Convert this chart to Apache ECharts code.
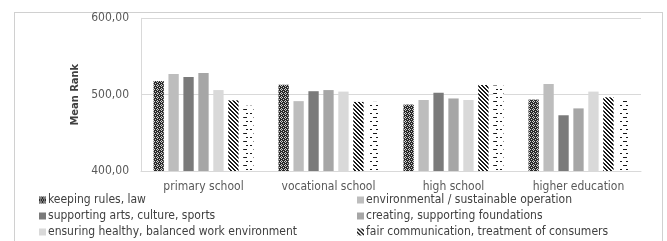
<!DOCTYPE html>
<html>
<head>
<meta charset="utf-8">
<script src="https://cdn.jsdelivr.net/npm/echarts@6/dist/echarts.min.js"></script>
<style>
  html, body { margin: 0; padding: 0; background: #fff; }
  #wrap { position: relative; width: 667px; height: 241px; overflow: hidden; }
  #frame { position: absolute; left: 14px; top: 12px; width: 647px; height: 260px; border: 1px solid #d0d0d0; }
  #chart { position: absolute; left: 0; top: 0; width: 667px; height: 241px; }
</style>
</head>
<body>
<div id="wrap">
  <div id="frame"></div>
  <div id="chart"></div>
</div>
<script>
const categories = ["primary school", "vocational school", "high school", "higher education"];
const seriesNames = [
  "keeping rules, law",
  "environmental / sustainable operation",
  "supporting arts, culture, sports",
  "creating, supporting foundations",
  "ensuring healthy, balanced work environment",
  "fair communication, treatment of consumers",
  "other"
];
const keepingRules = [518, 513, 487, 493.5];
const environmental = [527, 491.5, 493, 514];
const supportingArts = [523, 504.5, 502.5, 473];
const foundations = [528.5, 506, 495, 482];
const healthyWork = [506, 504, 493, 504];
const fairCommunication = [492.5, 490.5, 512.5, 496.5];
const otherValues = [485.5, 490.5, 512, 492.5];
const yTicks = [400, 500, 600];

const FONT = "'Liberation Sans Narrow', 'DejaVu Sans Condensed', 'Liberation Sans', sans-serif";

// pattern fills drawn on tiny canvases
function makePattern(w, h, draw) {
  const c = document.createElement("canvas");
  c.width = w; c.height = h;
  const ctx = c.getContext("2d");
  draw(ctx);
  return { image: c, repeat: "repeat" };
}

const checkPattern = makePattern(4, 4, (ctx) => {
  ctx.fillStyle = "#2b2b2b";
  ctx.fillRect(0, 0, 4, 4);
  ctx.fillStyle = "#d0d0d0";
  ctx.fillRect(1, 0, 1, 1);
  ctx.fillRect(0, 1, 1, 1);
  ctx.fillRect(2, 1, 1, 1);
  ctx.fillRect(1, 2, 1, 1);
  ctx.fillRect(3, 3, 1, 1);
});

const stripePattern = makePattern(4, 4, (ctx) => {
  ctx.fillStyle = "#fff";
  ctx.fillRect(0, 0, 4, 4);
  ctx.fillStyle = "#1a1a1a";
  for (let i = 0; i < 4; i++) {
    ctx.fillRect(i, i, 1, 1);
    ctx.fillRect((i + 1) % 4, i, 1, 1);
  }
});

const dashPattern = makePattern(10, 8, (ctx) => {
  ctx.fillStyle = "#fff";
  ctx.fillRect(0, 0, 10, 8);
  ctx.fillStyle = "#1a1a1a";
  ctx.fillRect(0, 1, 2, 1);
  ctx.fillRect(6, 1, 2, 1);
  ctx.fillRect(3, 5, 4, 1);
});

const fills = [checkPattern, "#bdbdbd", "#7a7a7a", "#a6a6a6", "#d9d9d9", stripePattern, dashPattern];
const values = [keepingRules, environmental, supportingArts, foundations, healthyWork, fairCommunication, otherValues];

const chart = echarts.init(document.getElementById("chart"));

const legendCommon = {
  orient: "vertical",
  icon: "rect",
  itemWidth: 7,
  itemHeight: 7,
  itemGap: 4,
  padding: 0,
  top: 194,
  height: 60,
  textStyle: { color: "#404040", fontSize: 12, fontFamily: FONT, lineHeight: 12, padding: [0, 0, 0, -3] },
};

chart.setOption({
  animation: false,
  textStyle: { fontFamily: FONT },
  legend: [
    Object.assign({}, legendCommon, { left: 39, data: [seriesNames[0], seriesNames[2], seriesNames[4]] }),
    Object.assign({}, legendCommon, { left: 357, data: [seriesNames[1], seriesNames[3], seriesNames[5]] }),
  ],
  grid: { left: 141, right: 26, top: 18.3, bottom: 70 },
  xAxis: {
    type: "category",
    data: categories,
    axisLine: { lineStyle: { color: "#d9d9d9" } },
    axisTick: { show: false },
    axisLabel: { color: "#595959", fontSize: 12, margin: 10, fontFamily: FONT },
  },
  yAxis: {
    type: "value",
    min: yTicks[0],
    max: yTicks[yTicks.length - 1],
    interval: 100,
    name: "Mean Rank",
    nameLocation: "middle",
    nameGap: 50,
    nameTextStyle: { color: "#404040", fontSize: 11, fontWeight: "bold", fontFamily: FONT },
    axisLine: { show: true, lineStyle: { color: "#d9d9d9" } },
    axisTick: { show: false },
    axisLabel: {
      color: "#595959",
      fontSize: 12,
      margin: 12,
      fontFamily: FONT,
      formatter: (v) => v.toFixed(2).replace(".", ","),
    },
    splitLine: { lineStyle: { color: "#d9d9d9" } },
  },
  series: seriesNames.map((name, i) => ({
    name,
    type: "bar",
    data: values[i],
    barGap: "45%",
    barCategoryGap: "20%",
    itemStyle: { color: fills[i] },
  })),
});
</script>
</body>
</html>
